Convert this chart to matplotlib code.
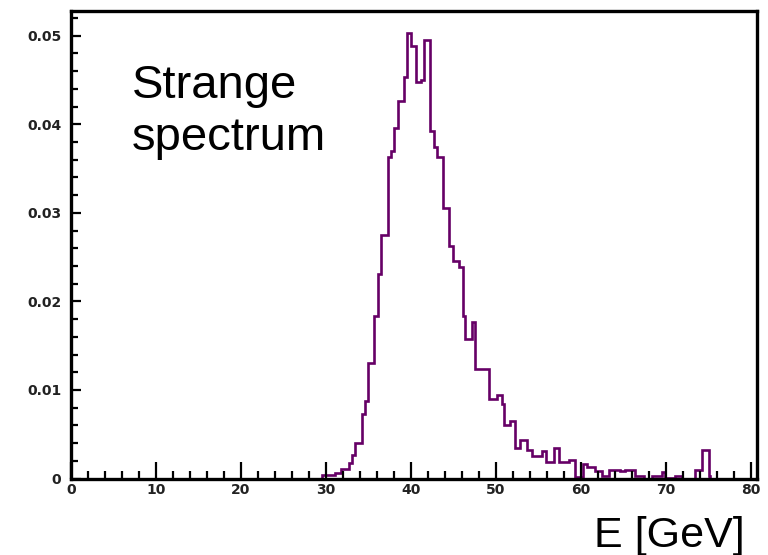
import numpy as np
import matplotlib
matplotlib.use('Agg')
import matplotlib.pyplot as plt
from matplotlib.ticker import MultipleLocator, FuncFormatter

# bin edges [GeV] and bin contents
edges = [0.0, 29.53, 31.09, 31.76, 32.74, 33.06, 33.36, 34.24, 34.54, 34.94,
         35.68, 36.07, 36.51, 37.29, 37.65, 37.95, 38.42, 39.13, 39.53, 40.04,
         40.62, 41.21, 41.48, 42.19, 42.66, 43.06, 43.72, 44.51, 44.89, 45.60,
         46.07, 46.39, 47.18, 47.56, 49.13, 50.12, 50.71, 50.89, 51.68, 52.27,
         52.86, 53.68, 54.27, 55.45, 55.92, 56.78, 57.36, 58.54, 59.33, 60.24,
         60.71, 61.68, 62.47, 63.25, 64.62, 65.21, 66.39, 67.36, 68.35, 69.53,
         69.92, 71.09, 71.88, 73.45, 74.24, 75.01, 75.21, 80.7]
counts = [0.0, 0.0004, 0.0006, 0.0011, 0.0018, 0.0026, 0.0040, 0.0073, 0.0088,
          0.0131, 0.0183, 0.0231, 0.0275, 0.0363, 0.0370, 0.0396, 0.0426, 0.0454,
          0.0503, 0.0489, 0.0448, 0.0450, 0.0495, 0.0393, 0.0374, 0.0363, 0.0305,
          0.0263, 0.0246, 0.0239, 0.0183, 0.0158, 0.0177, 0.0124, 0.0090, 0.0094,
          0.0084, 0.0060, 0.0065, 0.0035, 0.0043, 0.0032, 0.0025, 0.0031, 0.0019,
          0.0035, 0.0019, 0.0021, 0.0002, 0.0016, 0.0013, 0.0008, 0.0003, 0.0010,
          0.0008, 0.0010, 0.0003, 0.0, 0.0003, 0.0007, 0.0001, 0.0003, 0.0,
          0.0010, 0.0032, 0.0003, 0.0]

xticks = [0, 10, 20, 30, 40, 50, 60, 70, 80]
yticks = [0, 0.01, 0.02, 0.03, 0.04, 0.05]

fig = plt.figure(figsize=(7.68, 5.55), dpi=100)
ax = fig.add_axes([71/768, 1-478.5/555, (757-71)/768, (478.5-11)/555])

ax.stairs(counts, edges, color='#660066', linewidth=1.9)

ax.set_xlim(0, 80.7)
ax.set_ylim(0, 0.0528)
ax.set_xticks(xticks)
ax.set_yticks(yticks)
ax.xaxis.set_minor_locator(MultipleLocator(2))
ax.yaxis.set_minor_locator(MultipleLocator(0.002))
ax.xaxis.set_major_formatter(FuncFormatter(lambda v, p: '%d' % v))
ax.yaxis.set_major_formatter(FuncFormatter(lambda v, p: '0' if v == 0 else '%.2f' % v))

for s in ax.spines.values():
    s.set_linewidth(2.4)
ax.tick_params(axis='both', which='both', direction='in', top=False, right=False,
               width=1.6, colors='black', labelcolor='#222222')
ax.tick_params(axis='x', which='major', length=12, pad=3)
ax.tick_params(axis='x', which='minor', length=6)
ax.tick_params(axis='y', which='major', length=7, pad=7)
ax.tick_params(axis='y', which='minor', length=5)
for lab in ax.get_xticklabels() + ax.get_yticklabels():
    lab.set_fontweight('bold')
    lab.set_fontsize(10)

# last line baseline sits at the given y
fig.text(132/768, 1-150/555, 'Strange\nspectrum', fontsize=34, family='Liberation Sans',
         ha='left', va='baseline', linespacing=1.25)
fig.text(745/768, 1-547/555, 'E [GeV]', fontsize=31, family='Liberation Sans',
         ha='right', va='baseline')

fig.savefig('out.png', dpi=100)
